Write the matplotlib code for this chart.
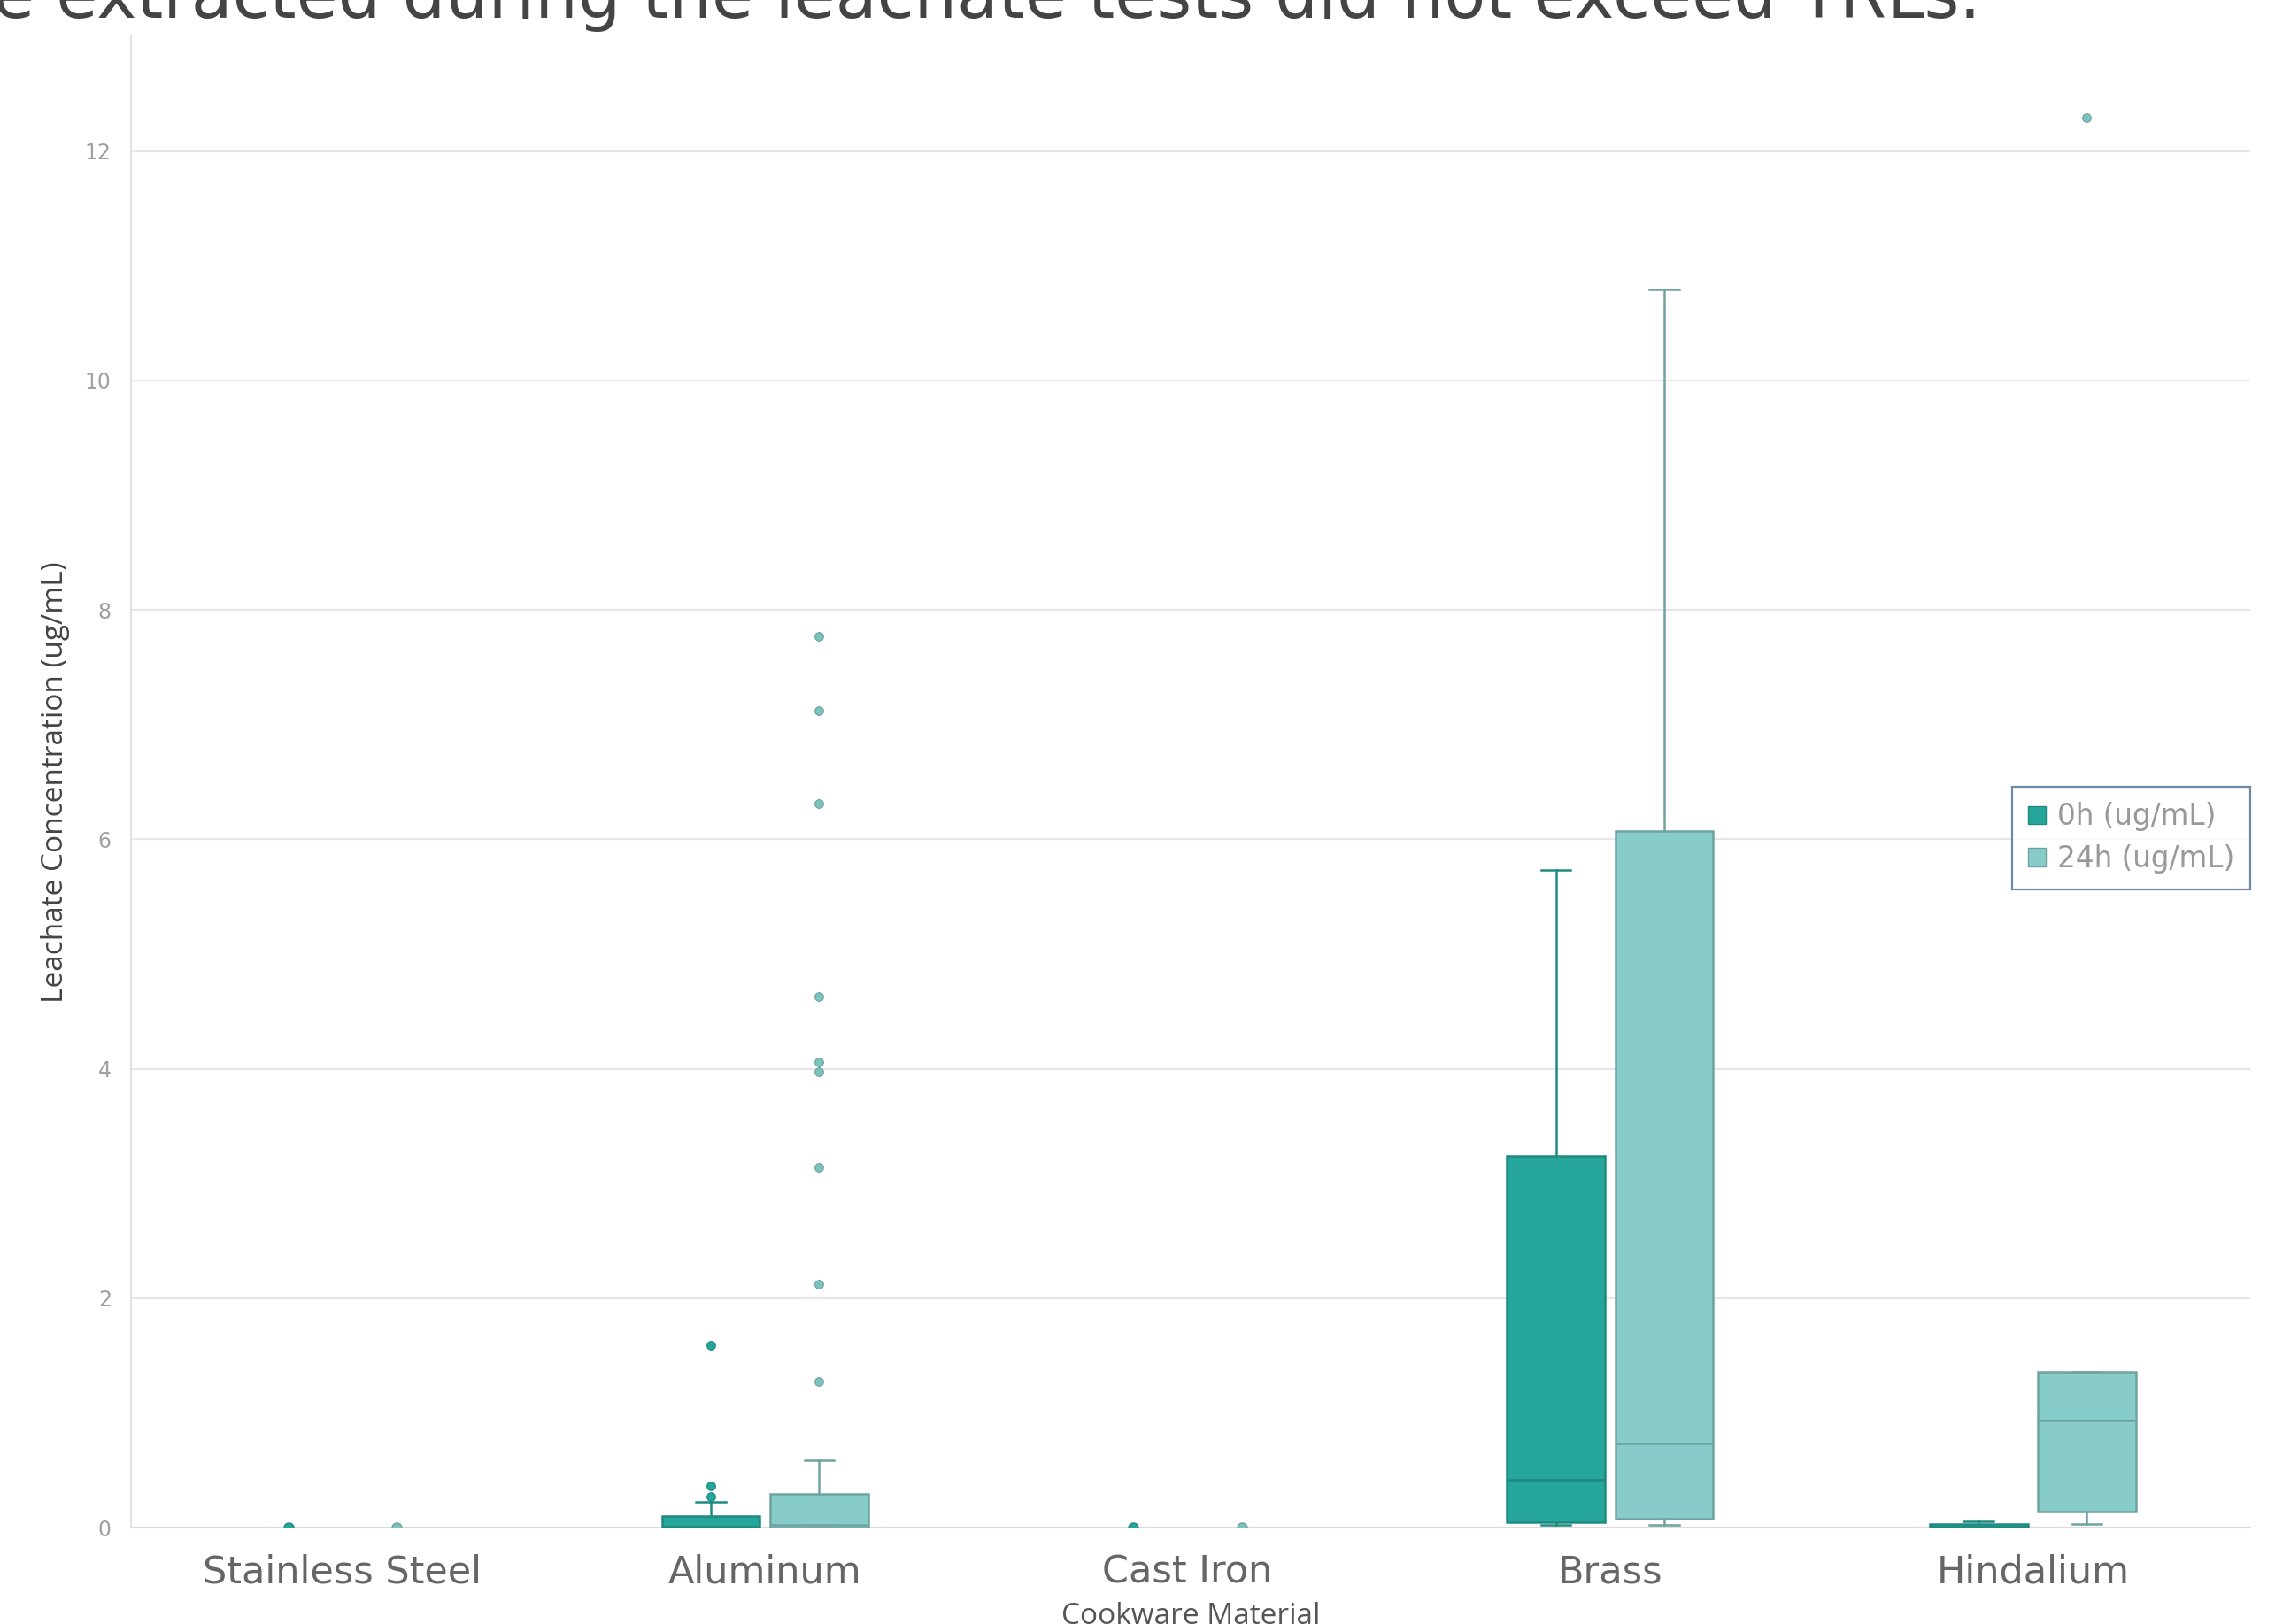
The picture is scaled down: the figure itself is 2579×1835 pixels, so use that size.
import matplotlib
matplotlib.use("Agg")
import matplotlib.pyplot as plt
from matplotlib.patches import Patch

# Categories
materials = ["Stainless Steel", "Aluminum", "Cast Iron", "Brass", "Hindalium"]

# 0h (ug/mL) box statistics per material
q1_0h = [0.0, 0.0, 0.0, 0.05, 0.0]
med_0h = [0.0, 0.01, 0.0, 0.42, 0.01]
q3_0h = [0.0, 0.10, 0.0, 3.24, 0.03]
lo_0h = [0.0, 0.0, 0.0, 0.02, 0.0]
hi_0h = [0.0, 0.22, 0.0, 5.73, 0.055]
fliers_0h = [[0.0], [0.27, 0.36, 1.59], [0.0], [], []]

# 24h (ug/mL) box statistics per material
q1_24h = [0.0, 0.0, 0.0, 0.08, 0.14]
med_24h = [0.0, 0.02, 0.0, 0.73, 0.93]
q3_24h = [0.0, 0.29, 0.0, 6.07, 1.36]
lo_24h = [0.0, 0.0, 0.0, 0.02, 0.03]
hi_24h = [0.0, 0.59, 0.0, 10.79, 1.36]
fliers_24h = [[0.0], [1.27, 2.12, 3.14, 3.97, 4.06, 4.63, 6.31, 7.12, 7.77], [0.0], [], [12.29]]

series_names = ["0h (ug/mL)", "24h (ug/mL)"]
y_ticks = [0, 2, 4, 6, 8, 10, 12]

c0_fill, c0_edge = "#26a69a", "#1d8a80"
c24_fill, c24_edge = "#88ccc9", "#6fa3a0"

fig = plt.figure(figsize=(25.79, 18.35), dpi=100)
ax = fig.add_axes([0.0574, 0.0594, 0.9283, 0.9183])

offset = 0.128
width = 0.232


def draw_series(q1, med, q3, lo, hi, fliers, shift, fill, edge, mcolor):
    stats, pos = [], []
    for i in range(len(materials)):
        if q3[i] > 0 or hi[i] > 0:
            stats.append({"q1": q1[i], "med": med[i], "q3": q3[i],
                          "whislo": lo[i], "whishi": hi[i], "fliers": fliers[i]})
            pos.append(i + shift)
        else:
            # collapsed group: only a point at zero
            ax.plot([i + shift] * len(fliers[i]), fliers[i], "o", ms=8,
                    color=mcolor, mec=edge, mew=1, zorder=3)
    ax.bxp(stats, positions=pos, widths=width, patch_artist=True,
           capwidths=0.07, manage_ticks=False,
           boxprops=dict(facecolor=fill, edgecolor=edge, linewidth=1.8),
           medianprops=dict(color=edge, linewidth=1.8),
           whiskerprops=dict(color=edge, linewidth=1.8),
           capprops=dict(color=edge, linewidth=1.8),
           flierprops=dict(marker="o", markersize=7, markerfacecolor=mcolor,
                           markeredgecolor=edge, markeredgewidth=0.8),
           zorder=3)


draw_series(q1_0h, med_0h, q3_0h, lo_0h, hi_0h, fliers_0h, -offset,
            c0_fill, c0_edge, c0_fill)
draw_series(q1_24h, med_24h, q3_24h, lo_24h, hi_24h, fliers_24h, offset,
            c24_fill, c24_edge, "#7cc3bf")

ax.set_xlim(-0.5, len(materials) - 0.485)
ax.set_ylim(0, 13.0)
ax.set_xticks(range(len(materials)))
ax.set_xticklabels(materials, fontsize=31, color="#666666", family="DejaVu Sans")
ax.set_yticks(y_ticks)
ax.set_yticklabels([str(t) for t in y_ticks], fontsize=17, color="#a0a0a0",
                   family="DejaVu Sans")
ax.tick_params(axis="both", length=0)
ax.tick_params(axis="x", pad=21)
ax.tick_params(axis="y", pad=16)

ax.grid(axis="y", color="#e6e6e6", linewidth=1.5)
ax.set_axisbelow(True)
for s in ["top", "right"]:
    ax.spines[s].set_visible(False)
ax.spines["left"].set_color("#e2e2e2")
ax.spines["left"].set_linewidth(1.5)
ax.spines["bottom"].set_color("#dcdcdc")
ax.spines["bottom"].set_linewidth(1.5)

ax.set_ylabel("Leachate Concentration (ug/mL)", fontsize=24, color="#444444",
              family="Open Sans", labelpad=12)

fig.text(0.5215, 0.0136, "Cookware Material", ha="center", va="top",
         fontsize=24, color="#555555", family="Open Sans")

fig.text(-0.003, 0.989, "e extracted during the leachate tests did not exceed TRLs.",
         ha="left", va="baseline", fontsize=55, color="#444444", family="DejaVu Sans")

handles = [Patch(facecolor=c0_fill, edgecolor=c0_edge, label=series_names[0]),
           Patch(facecolor=c24_fill, edgecolor=c24_edge, label=series_names[1])]
leg = ax.legend(handles=handles, loc="upper right", bbox_to_anchor=(1.0, 0.497),
                frameon=True, fancybox=False, handlelength=0.6,
                handleheight=0.6, handletextpad=0.4, borderpad=0.55,
                labelspacing=0.45, borderaxespad=0,
                prop={"family": "DejaVu Sans", "size": 23.5})
leg.get_frame().set_edgecolor("#4a6d8c")
leg.get_frame().set_linewidth(1.6)
for t in leg.get_texts():
    t.set_color("#999999")

fig.savefig("out.png", dpi=100)
